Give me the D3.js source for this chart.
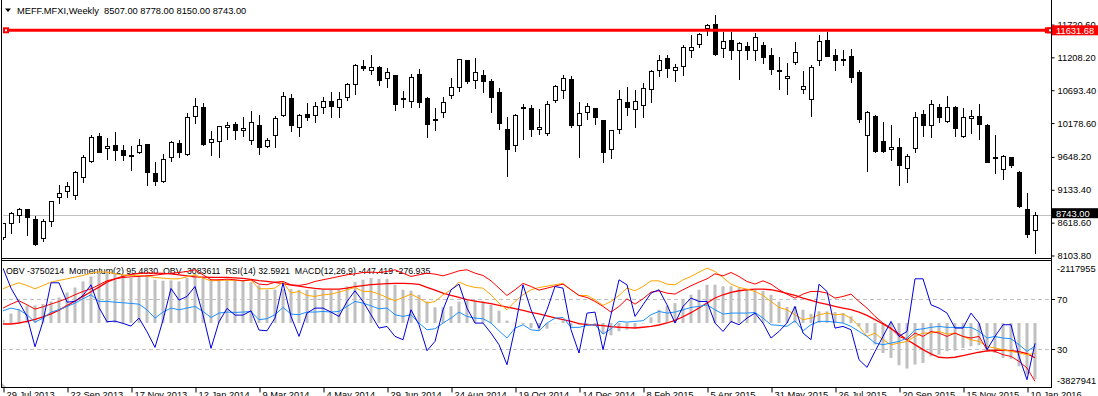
<!DOCTYPE html>
<html>
<head>
<meta charset="utf-8">
<script src="https://cdn.jsdelivr.net/npm/d3@7"></script>
<style>
  body { margin: 0; background: #fff; }
  svg { display: block; font-family: "Liberation Sans", Arial, sans-serif; }
</style>
</head>
<body>
<div id="chart"></div>
<script>
// weekly candles, MEFF.MFXI
var opens = [8388,8608,8733,8827,8670,8373,8639,9015,9114,9046,
  9339,9589,9976,9783,9835,9751,9678,9720,9850,9396,
  9266,9642,9861,9699,10289,10425,9877,9892,10112,10164,
  10065,9908,10143,9814,9997,10300,10566,10112,10315,10300,
  10425,10519,10435,10582,10796,11067,11015,11052,10879,10926,
  10571,10519,10942,10571,10242,10347,10613,10738,11161,10848,
  10931,10832,10665,10080,9835,10414,10414,10080,10028,10535,
  10691,10869,10153,10347,10414,10221,9767,10080,10503,10394,
  10456,10707,11004,11192,11004,11067,11328,11412,11668,11730,
  11349,11475,11318,11381,11318,11396,11240,11004,10879,11130,
  10707,10550,11161,11475,11240,11182,11224,10973,9986,10284,
  9892,9767,9798,9469,9783,10315,10143,10430,10216,10430,
  9981,10253,10289,10148,9652,9454,9642,9412,8832,8507];
var highs = [8613,8785,8848,8832,8723,8681,8963,9208,9260,9428,
  9683,9997,10023,9944,10038,9835,9824,9929,9850,9569,
  9694,9892,9913,10331,10571,10493,10049,10133,10200,10190,
  10268,10362,10310,9944,10284,10660,10629,10320,10493,10503,
  10587,10660,10660,10806,11104,11172,11240,11067,11041,10937,
  10676,10952,11020,10582,10414,10582,10879,11187,11172,11198,
  11004,10869,10728,10268,10320,10477,10456,10404,10519,10780,
  10937,10911,10509,10493,10414,10221,10075,10702,10744,10691,
  10806,11015,11250,11250,11109,11396,11563,11589,11730,11877,
  11600,11605,11448,11448,11589,11443,11354,11208,11119,11448,
  10989,11083,11553,11605,11344,11318,11334,11015,10362,10310,
  10190,10143,9944,9699,10352,10383,10540,10477,10603,10451,
  10414,10383,10472,10159,9997,9683,9652,9422,9083,8778];
var lows = [8357,8451,8634,8430,8263,8336,8571,8921,9015,8994,
  9250,9574,9725,9621,9605,9605,9448,9710,9213,9213,
  9260,9589,9652,9683,10185,9830,9683,9652,9934,9924,
  9981,9850,9699,9798,9798,10284,10049,9981,10232,10190,
  10336,10268,10279,10545,10639,11015,10947,10780,10744,10378,
  10425,10435,10435,9955,10075,10279,10566,10686,10806,10728,
  10660,10357,10091,9354,9746,9934,9981,10007,9997,10509,
  10571,10112,9652,10247,10164,9574,9631,10028,10310,10122,
  10279,10509,10921,10905,10843,10937,11213,11375,11563,11250,
  11213,11187,10874,11187,11172,11119,10952,10717,10634,11109,
  10655,10294,11093,11234,11015,11093,10822,10200,9433,9725,
  9720,9605,9213,9250,9730,9981,9955,10200,10195,9981,
  9965,10023,9924,9574,9401,9307,9490,8858,8399,8150];
var closes = [8608,8764,8827,8702,8279,8650,8952,9078,9187,9412,
  9642,9960,9730,9819,9751,9673,9683,9835,9417,9276,
  9610,9877,9730,10273,10441,9850,9924,10127,10148,10065,
  10101,10190,9798,9908,10258,10597,10143,10300,10273,10441,
  10519,10451,10556,10790,11083,11046,11052,10848,10973,10482,
  10556,10900,10503,10159,10221,10503,10738,11177,10843,10973,
  10843,10582,10179,9777,10300,10435,10091,10117,10472,10754,
  10879,10153,10331,10441,10279,9730,10065,10556,10425,10519,
  10723,10994,11172,11046,11052,11365,11365,11579,11710,11266,
  11459,11318,11433,11318,11532,11213,11025,11010,10916,11286,
  10754,11052,11459,11234,11172,11161,10905,10247,10347,9746,
  9746,9798,9527,9657,10268,10143,10472,10279,10430,10096,
  10273,10289,10159,9574,9636,9663,9527,8879,8446,8743];

// indicator window
var macdMain = [25,75,108,138,140,150,172,203,243,283,
  331,371,405,411,397,380,360,365,384,345,
  337,340,331,358,390,365,352,352,348,337,
  337,326,300,265,265,270,270,265,265,265,
  265,265,265,292,326,345,358,352,352,305,
  265,257,225,172,125,125,133,170,180,180,
  172,146,98,19,2,-10,-40,-61,-45,0,
  19,-27,-13,-13,-19,-87,-98,-66,-53,-40,
  0,45,106,138,159,193,225,265,305,305,
  292,292,278,265,265,257,225,172,127,133,
  106,72,93,93,87,80,53,-27,-80,-172,
  -239,-278,-337,-363,-331,-318,-265,-252,-225,-220,
  -199,-186,-178,-220,-239,-278,-285,-345,-411,-447.419];
var macdSignal = [-8,-8,0,13,29,48,72,103,138,175,
  212,249,286,326,352,371,387,395,398,398,
  395,392,384,376,368,366,363,363,363,360,
  355,347,337,331,323,313,302,294,284,276,
  270,270,270,278,289,297,305,310,313,315,
  315,313,307,284,262,238,220,204,186,175,
  164,154,140,127,114,100,85,72,56,40,
  27,13,-5,-13,-16,-21,-29,-34,-37,-40,
  -34,-27,-16,0,21,50,82,119,159,199,
  225,244,257,265,270,270,265,252,236,220,
  199,180,162,148,132,119,106,87,61,27,
  -8,-45,-87,-133,-172,-212,-246,-273,-278,-273,
  -260,-246,-233,-223,-217,-217,-220,-228,-244,-276.935];
var momentum = [113.56,108.76,105.40,101.96,94.68,100.76,110.04,110.04,105.40,105.56,
  107.00,109.56,104.12,100.68,100.84,100.28,99.64,101.56,98.28,94.52,
  101.08,108.68,105.88,106.76,109.16,102.36,94.28,100.68,103.88,102.28,
  102.28,103.32,98.68,98.52,101.56,109.96,101.96,97.16,102.76,103.96,
  103.96,103.00,101.96,105.56,108.12,105.56,102.36,99.16,99.56,97.16,
  96.36,103.56,99.96,93.72,95.96,103.56,108.36,109.72,103.96,100.36,
  100.36,97.96,95.16,90.36,99.16,109.56,103.56,99.16,103.56,109.16,
  108.76,98.76,93.16,102.76,103.00,93.96,102.36,110.76,109.56,101.96,
  104.76,107.56,108.36,104.76,100.36,104.36,106.36,105.56,105.56,100.36,
  98.36,100.76,99.96,101.56,102.76,100.36,96.76,98.36,100.36,104.36,
  97.96,96.36,109.72,107.96,99.16,99.56,98.76,91.56,89.72,93.56,
  97.16,100.76,97.16,98.36,111.00,111.00,104.76,103.96,102.76,99.16,
  99.16,102.76,100.36,93.96,97.16,99.96,99.96,92.36,86.76,95.483];
var rsi = [60.7,62.9,61.5,57.6,51.7,54.9,59.7,61.5,64.2,66.8,
  70.3,73.5,68.2,68.2,67.6,67.1,66.6,66.0,61.5,54.9,
  59.7,62.9,61.5,62.9,64.2,60.2,55.4,58.9,59.7,59.4,
  59.7,60.2,53.6,54.4,57.6,63.4,58.1,57.6,59.7,59.7,
  60.2,59.7,60.2,64.2,68.2,66.8,64.7,62.3,62.9,57.6,
  56.2,57.6,50.9,45.6,46.4,50.9,54.9,59.7,56.2,54.9,
  54.4,50.9,44.8,39.0,46.9,49.6,45.6,44.8,50.9,54.9,
  55.4,47.5,47.5,49.1,49.6,42.2,46.4,52.3,51.7,52.3,
  52.8,57.6,60.2,58.9,59.7,61.5,63.4,64.2,65.5,61.5,
  58.1,58.9,58.9,58.9,59.4,54.9,49.6,49.1,48.3,52.8,
  44.8,49.6,52.3,52.3,51.7,50.9,48.3,44.3,40.3,35.0,
  33.7,35.0,36.3,39.0,45.6,46.4,47.5,48.3,47.5,47.5,
  47.5,47.5,44.3,39.0,40.3,39.0,38.5,33.7,28.4,32.5921];
// OBV in thousands
var obv1K = [-2753,-2698,-2653,-2708,-2767,-2735,-2698,-2662,-2621,-2571,
  -2526,-2490,-2435,-2381,-2354,-2336,-2327,-2322,-2313,-2304,
  -2290,-2277,-2268,-2254,-2231,-2299,-2367,-2367,-2358,-2367,
  -2381,-2367,-2426,-2435,-2399,-2390,-2435,-2444,-2426,-2390,
  -2367,-2345,-2322,-2299,-2286,-2268,-2263,-2268,-2254,-2231,
  -2277,-2322,-2299,-2277,-2290,-2313,-2281,-2245,-2231,-2277,
  -2308,-2381,-2481,-2581,-2503,-2417,-2458,-2508,-2481,-2454,
  -2426,-2503,-2581,-2608,-2662,-2730,-2807,-2730,-2626,-2699,
  -2626,-2535,-2517,-2549,-2562,-2503,-2449,-2399,-2354,-2286,
  -2313,-2268,-2322,-2390,-2426,-2381,-2426,-2503,-2562,-2617,
  -2562,-2526,-2526,-2549,-2617,-2594,-2562,-2662,-2753,-2866,
  -2957,-3025,-3139,-3184,-3093,-3139,-3071,-3093,-3139,-3093,
  -3139,-3161,-3139,-3320,-3343,-3388,-3411,-3479,-3569,-3750.214];
var obv2K = [-2055,-2002,-1960,-2002,-2055,-2002,-1949,-1922,-1896,-1869,
  -1843,-1806,-1784,-1790,-1816,-1832,-1848,-1838,-1853,-1875,
  -1885,-1896,-1896,-1864,-1832,-1885,-1928,-1922,-1917,-1922,
  -1928,-1917,-2055,-2055,-2044,-1949,-2124,-2097,-2161,-2177,
  -2151,-2140,-2108,-2071,-2034,-2097,-2097,-2140,-2193,-2246,
  -2193,-2140,-2204,-2283,-2257,-2151,-2071,-1949,-2002,-2034,
  -2044,-2151,-2283,-2389,-2257,-2151,-2071,-2034,-2013,-1991,
  -1970,-2071,-2161,-2161,-2230,-2320,-2257,-2161,-2044,-2087,
  -2018,-1928,-1928,-1981,-1991,-1912,-1859,-1790,-1726,-1779,
  -1875,-1981,-2034,-2060,-2097,-2161,-2257,-2352,-2389,-2469,
  -2548,-2522,-2469,-2442,-2469,-2458,-2522,-2654,-2814,-2761,
  -2867,-2946,-2920,-2893,-2814,-2761,-2761,-2734,-2777,-2761,
  -2814,-2867,-2893,-2973,-2999,-3026,-3052,-3079,-3105,-3083.611];

var priceTicks = [11720.60, 11208.20, 10693.40, 10178.60, 9648.20, 9133.40, 8618.60, 8103.80];
var dateTickBars = [0, 8, 16, 24, 32, 40, 48, 56, 64, 72, 80, 88, 96, 104, 112, 120, 128];
var dateLabels = ["29 Jul 2013", "22 Sep 2013", "17 Nov 2013", "12 Jan 2014", "9 Mar 2014",
  "4 May 2014", "29 Jun 2014", "24 Aug 2014", "19 Oct 2014", "14 Dec 2014", "8 Feb 2015",
  "5 Apr 2015", "31 May 2015", "26 Jul 2015", "20 Sep 2015", "15 Nov 2015", "10 Jan 2016"];
var hLinePrice = 11631.68, bidPrice = 8743.00;
var obvAxisTop = -2117955, obvAxisBottom = -3827941;

var width = 1098, height = 396,
    left = 2, right = 1051,
    mainBottom = 258, subTop = 260, subBottom = 387;
var fontSize = "9.3px";

var svg = d3.select("#chart").append("svg")
  .attr("width", width)
  .attr("height", height);

var n = closes.length;
var x = d3.scaleLinear().domain([0, n - 1]).range([3, 3 + 8 * (n - 1)]);
var y = d3.scaleLinear().domain([bidPrice, hLinePrice]).range([214.7, 30.3]);

// sub window scales, each indicator keeps its own range
var yRsi = d3.scaleLinear().domain([0, 100]).range([subBottom, 261.5]);
var yMacd = d3.scaleLinear().domain([-510, 490]).range([subBottom, 261.5]);
var yMom = d3.scaleLinear().domain([85, 115.16]).range([subBottom, 261.5]);
var yObv1 = d3.scaleLinear().domain([obvAxisBottom / 1000, obvAxisTop / 1000]).range([subBottom, 261.5]);
var yObv2 = d3.scaleLinear().domain([-3620, -1620]).range([subBottom, 261.5]);

var defs = svg.append("defs");
defs.append("clipPath").attr("id", "clipMain").append("rect")
  .attr("x", left + 1).attr("y", 0).attr("width", right - left - 1).attr("height", mainBottom);
defs.append("clipPath").attr("id", "clipSub").append("rect")
  .attr("x", left + 1).attr("y", subTop + 1).attr("width", right - left - 1).attr("height", subBottom - subTop - 1);

var px = function(i) { return Math.round(x(i)) + 0.5; };

// ---- main window ----
var main = svg.append("g").attr("clip-path", "url(#clipMain)");

// bid line
main.append("line")
  .attr("x1", left).attr("x2", right)
  .attr("y1", Math.round(y(bidPrice)) + 0.5).attr("y2", Math.round(y(bidPrice)) + 0.5)
  .attr("stroke", "#c0c0c0");

var idx = d3.range(n);
var candles = main.append("g").selectAll("g").data(idx).enter().append("g");
candles.append("line")
  .attr("x1", px).attr("x2", px)
  .attr("y1", function(i) { return Math.round(y(highs[i])); })
  .attr("y2", function(i) { return Math.round(y(lows[i])) + 1; })
  .attr("stroke", "#000");
candles.append("rect")
  .attr("x", function(i) { return px(i) - 2; })
  .attr("width", 4)
  .attr("y", function(i) { return Math.round(y(Math.max(opens[i], closes[i]))) + 0.5; })
  .attr("height", function(i) {
    return Math.max(1, Math.round(y(Math.min(opens[i], closes[i]))) - Math.round(y(Math.max(opens[i], closes[i]))));
  })
  .attr("fill", function(i) { return closes[i] >= opens[i] ? "#fff" : "#000"; })
  .attr("stroke", "#000");

// horizontal line object
var hy = y(hLinePrice);
main.append("line")
  .attr("x1", left).attr("x2", right)
  .attr("y1", hy).attr("y2", hy)
  .attr("stroke", "#ff0000").attr("stroke-width", 3);
[left + 1, right - 6].forEach(function(hx) {
  svg.append("rect").attr("x", hx).attr("y", hy - 3).attr("width", 6).attr("height", 6).attr("fill", "#ff0000");
  svg.append("rect").attr("x", hx + 2).attr("y", hy - 1).attr("width", 2).attr("height", 2).attr("fill", "#fff");
});

// title
svg.append("path").attr("d", "M5,8.5 L11,8.5 L8,12 Z").attr("fill", "#000");
svg.append("text")
  .attr("x", 17).attr("y", 13.5)
  .style("font-size", fontSize).style("white-space", "pre")
  .attr("fill", "#000")
  .text("MEFF.MFXI,Weekly  " + opens[n - 1].toFixed(2) + " " + highs[n - 1].toFixed(2) + " " +
        lows[n - 1].toFixed(2) + " " + closes[n - 1].toFixed(2));

// price axis
var priceAxis = svg.append("g")
  .attr("transform", "translate(" + (right + 0.5) + ",0)")
  .call(d3.axisRight(y).tickValues(priceTicks).tickFormat(d3.format(".2f")).tickSize(3).tickPadding(3));
priceAxis.select(".domain").remove();
priceAxis.selectAll("text").style("font-size", fontSize).style("font-family", "Liberation Sans, Arial, sans-serif").attr("fill", "#000");

// price labels for the line and the bid
var lab = svg.append("g");
lab.append("rect").attr("x", right + 1).attr("y", hy - 5).attr("width", width - right).attr("height", 10).attr("fill", "#ff0000");
lab.append("rect").attr("x", right - 4).attr("y", hy - 3).attr("width", 6).attr("height", 6).attr("fill", "#ff0000");
lab.append("rect").attr("x", right - 2).attr("y", hy - 1).attr("width", 2).attr("height", 2).attr("fill", "#fff");
lab.append("text").attr("x", right + 5).attr("y", hy + 3.4)
  .style("font-size", fontSize).attr("fill", "#fff").text(hLinePrice.toFixed(2));
var by = y(bidPrice);
lab.append("rect").attr("x", right + 1).attr("y", by - 6.5).attr("width", width - right).attr("height", 10).attr("fill", "#000");
lab.append("text").attr("x", right + 5).attr("y", by + 1.9)
  .style("font-size", fontSize).attr("fill", "#fff").text(bidPrice.toFixed(2));

// ---- indicator window ----
svg.append("text")
  .attr("x", 6).attr("y", 273.5)
  .style("font-size", "8.8px").style("white-space", "pre")
  .attr("fill", "#000")
  .text("OBV " + obv1K[n - 1] * 1000 + "  Momentum(2) " + momentum[n - 1].toFixed(4) +
        "  OBV " + Math.round(obv2K[n - 1] * 1000) + "  RSI(14) " + rsi[n - 1].toFixed(4) +
        "  MACD(12,26,9) " + macdMain[n - 1].toFixed(3) + " " + macdSignal[n - 1].toFixed(3));

var sub = svg.append("g").attr("clip-path", "url(#clipSub)");

[70, 30].forEach(function(lv) {
  var ly = Math.round(yRsi(lv)) + 0.5;
  sub.append("line").attr("x1", left).attr("x2", right).attr("y1", ly).attr("y2", ly)
    .attr("stroke", "#c0c0c0").attr("stroke-dasharray", "4,3");
});

sub.append("g").selectAll("rect").data(idx).enter().append("rect")
  .attr("x", function(i) { return px(i) - 2; })
  .attr("width", 3)
  .attr("y", function(i) { return Math.min(yMacd(0), yMacd(macdMain[i])); })
  .attr("height", function(i) { return Math.max(0.5, Math.abs(yMacd(macdMain[i]) - yMacd(0))); })
  .attr("fill", "#c0c0c0");

function drawLine(values, scale, color, w) {
  sub.append("path")
    .datum(values)
    .attr("d", d3.line().x(function(d, i) { return x(i); }).y(function(d) { return scale(d); }))
    .attr("fill", "none")
    .attr("stroke", color)
    .attr("stroke-width", w);
}
drawLine(macdSignal, yMacd, "#ff0000", 1.3);
drawLine(obv2K, yObv2, "#ffa500", 1);
drawLine(obv1K, yObv1, "#ff0000", 1);
drawLine(rsi, yRsi, "#1e90ff", 1);
drawLine(momentum, yMom, "#0000dd", 1);

// indicator axis labels
var subAxis = svg.append("g").style("font-size", fontSize);
[70, 30].forEach(function(lv) {
  var ly = Math.round(yRsi(lv)) + 0.5;
  subAxis.append("line").attr("x1", right).attr("x2", right + 4).attr("y1", ly).attr("y2", ly).attr("stroke", "#000");
  subAxis.append("text").attr("x", right + 6).attr("y", ly + 3.4).text(lv);
});
subAxis.append("text").attr("x", right + 6).attr("y", yObv1(obvAxisTop / 1000) + 10).text(obvAxisTop);
subAxis.append("text").attr("x", right + 6).attr("y", yObv1(obvAxisBottom / 1000) - 3).text(obvAxisBottom);

// resize grip
svg.append("path").attr("d", "M2,383 L2,387 L6,387 Z").attr("fill", "#c0c0c0");

// ---- frames ----
var frame = svg.append("g").attr("stroke", "#000").attr("fill", "none");
frame.append("line").attr("x1", left - 0.5).attr("x2", left - 0.5).attr("y1", 0).attr("y2", subBottom + 1);
frame.append("line").attr("x1", right + 0.5).attr("x2", right + 0.5).attr("y1", 0).attr("y2", subBottom + 1);
frame.append("line").attr("x1", left - 1).attr("x2", right + 1).attr("y1", mainBottom + 0.5).attr("y2", mainBottom + 0.5);
frame.append("line").attr("x1", left - 1).attr("x2", right + 1).attr("y1", subTop + 0.5).attr("y2", subTop + 0.5);
frame.append("line").attr("x1", left - 1).attr("x2", right + 1).attr("y1", subBottom + 0.5).attr("y2", subBottom + 0.5);

// ---- time axis ----
var timeAxis = svg.append("g")
  .attr("transform", "translate(0," + (subBottom + 0.5) + ")")
  .call(d3.axisBottom(x).tickValues(dateTickBars)
    .tickFormat(function(d, i) { return dateLabels[i]; }).tickSize(5));
timeAxis.select(".domain").remove();
timeAxis.selectAll(".tick line").attr("transform", "translate(0.5,0)");
timeAxis.selectAll("text")
  .style("font-size", fontSize).style("font-family", "Liberation Sans, Arial, sans-serif")
  .attr("text-anchor", "start").attr("x", 3).attr("y", 4).attr("dy", "0.71em").attr("fill", "#000");
</script>
</body>
</html>
